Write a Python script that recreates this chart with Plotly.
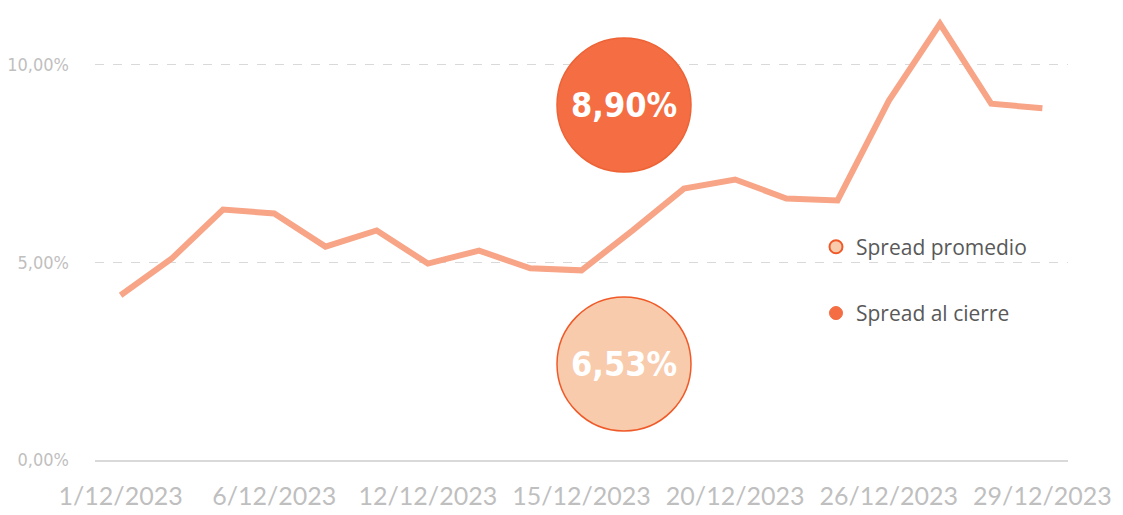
import plotly.graph_objects as go

dates = ["1/12/2023", "4/12/2023", "5/12/2023", "6/12/2023", "7/12/2023",
         "11/12/2023", "12/12/2023", "13/12/2023", "14/12/2023", "15/12/2023",
         "18/12/2023", "19/12/2023", "20/12/2023", "21/12/2023", "22/12/2023",
         "26/12/2023", "27/12/2023", "28/12/2023", "29/12/2023"]
spread = [4.17, 5.10, 6.34, 6.24, 5.40, 5.81, 4.97, 5.30, 4.85, 4.80,
          5.81, 6.87, 7.10, 6.62, 6.57, 9.09, 11.04, 9.02, 8.90]
spread = [v / 100 for v in spread]
tick_labels = dates[::3]
spread_avg = 0.0653
spread_close = 0.0890

LINE = "#F8A486"
CLOSE = "#F46D43"
AVG = "#F8CBAD"
EDGE = "#F05A28"
GRAY = "#BFBFBF"
COND = "DejaVu Sans Condensed, Liberation Sans Narrow, DejaVu Sans"

fig = go.Figure()
fig.add_trace(go.Scatter(
    x=dates, y=spread, mode="lines",
    line=dict(color=LINE, width=6), showlegend=False, hoverinfo="x+y"))

fig.add_trace(go.Scatter(
    x=[None], y=[None], mode="markers", name="Spread promedio", legendgroup="a",
    marker=dict(symbol="circle", size=13, color=AVG, line=dict(color=EDGE, width=2))))
fig.add_trace(go.Scatter(
    x=[None], y=[None], mode="markers", name="Spread al cierre", legendgroup="b",
    marker=dict(symbol="circle", size=13, color=CLOSE, line=dict(color=CLOSE, width=1))))

# page has an 8px body margin; figure coordinates = screen - 8
OFF = 8
W, H = 1115, 507
L, R, T, B = 87, 55, 0, 55
pw, ph = W - L - R, H - T - B

def px2paper(cx, cy, r):
    cx -= OFF
    cy -= OFF
    x0 = (cx - r - L) / pw
    x1 = (cx + r - L) / pw
    y0 = (H - B - (cy + r)) / ph
    y1 = (H - B - (cy - r)) / ph
    return x0, x1, y0, y1

for (cx, cy, fill, edge, val) in [(624, 105, CLOSE, "#EE6336", spread_close),
                                  (624, 364, AVG, EDGE, spread_avg)]:
    x0, x1, y0, y1 = px2paper(cx, cy, 67)
    fig.add_shape(type="circle", xref="paper", yref="paper",
                  x0=x0, x1=x1, y0=y0, y1=y1,
                  fillcolor=fill, line=dict(color=edge, width=1.5), layer="above")
    fig.add_annotation(xref="paper", yref="paper", x=(x0 + x1) / 2, y=(y0 + y1) / 2,
                       xanchor="center", yanchor="middle",
                       text=f"<b>{val*100:.2f}%</b>".replace(".", ","),
                       showarrow=False,
                       font=dict(family=COND, size=34, color="white"))

fig.update_layout(
    width=W, height=H,
    margin=dict(l=L, r=R, t=T, b=B, autoexpand=False),
    plot_bgcolor="white", paper_bgcolor="white",
    separators=",.",
    xaxis=dict(type="category", tickmode="array", tickvals=tick_labels, ticktext=tick_labels,
               showgrid=False, showline=True, linecolor="#D9D9D9", linewidth=1.5,
               ticks="", tickfont=dict(family="Lato, Open Sans", size=25, color=GRAY),
               range=[-0.5, len(dates) - 0.5], ticklabelstandoff=13, automargin=False),
    yaxis=dict(range=[0, 0.1144], tickvals=[0, 0.05, 0.10], tickformat=".2%",
               showgrid=True, gridcolor="#D9D9D9", griddash="dash", gridwidth=1,
               zeroline=False, showline=False, ticks="", automargin=False,
               tickfont=dict(family=COND, size=18, color=GRAY), ticklabelstandoff=25),
    legend=dict(x=0.741, y=0.398, xanchor="left", yanchor="middle",
                font=dict(family="Open Sans", size=21, color="#595959"),
                tracegroupgap=36, itemwidth=30, bgcolor="rgba(0,0,0,0)"),
    showlegend=True,
)

fig.write_html("out.html")
